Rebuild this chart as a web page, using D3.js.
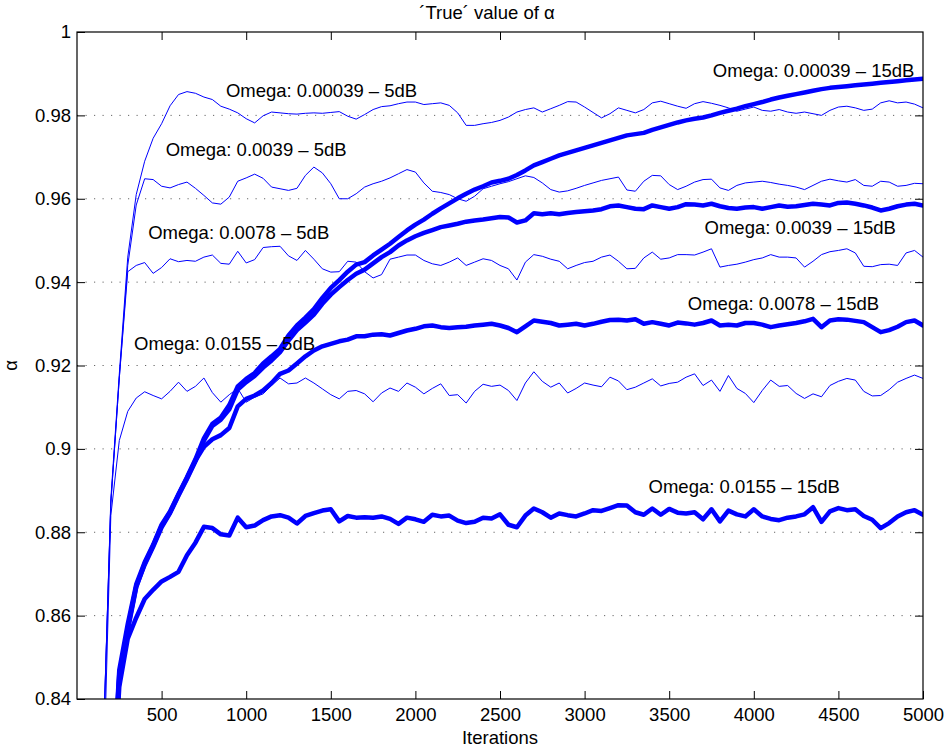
<!DOCTYPE html>
<html>
<head>
<meta charset="utf-8">
<script src="https://cdn.jsdelivr.net/npm/d3@7"></script>
<style>
  body { margin: 0; background: #fff; }
  svg text { font-family: "Liberation Sans", Arial, Helvetica, sans-serif; }
</style>
</head>
<body>
<div id="chart"></div>
<script>
// sampling of the iteration axis (every 50 iterations)
const iterations = d3.range(150, 5001, 50);

// 5dB runs (thin lines)
const omega00039_5dB = [
  0.822, 0.888, 0.918, 0.946, 0.961, 0.969, 0.9745, 0.978, 0.9823, 0.985,
  0.9857, 0.9853, 0.9844, 0.9838, 0.9822, 0.9815, 0.9806, 0.9792, 0.9782, 0.9799,
  0.9808, 0.9806, 0.9804, 0.9803, 0.9805, 0.9806, 0.9805, 0.9807, 0.9809, 0.9798,
  0.9791, 0.9802, 0.9814, 0.9821, 0.9823, 0.9828, 0.9832, 0.9832, 0.9826, 0.9828,
  0.983, 0.9824, 0.9806, 0.9776, 0.9776, 0.978, 0.9783, 0.9788, 0.9796, 0.9808,
  0.9814, 0.9818, 0.9808, 0.9816, 0.9824, 0.9833, 0.9832, 0.982, 0.9807, 0.9794,
  0.9804, 0.9818, 0.9812, 0.9806, 0.9814, 0.983, 0.9834, 0.9828, 0.9822, 0.9817,
  0.9828, 0.9833, 0.9829, 0.9824, 0.9818, 0.981, 0.9815, 0.982, 0.9812, 0.981,
  0.9814, 0.9808, 0.9805, 0.9808, 0.9804, 0.98, 0.9812, 0.982, 0.9822, 0.9818,
  0.9812, 0.9815, 0.983, 0.9835, 0.983, 0.9832, 0.9827, 0.9818
];
const omega0039_5dB = [
  0.822, 0.887, 0.917, 0.944, 0.9585, 0.9648, 0.9646, 0.963, 0.9626, 0.9634,
  0.964, 0.9625, 0.9608, 0.959, 0.9587, 0.9604, 0.9642, 0.965, 0.9659, 0.9649,
  0.9628, 0.9624, 0.962, 0.9625, 0.9656, 0.9676, 0.9662, 0.9636, 0.96, 0.96,
  0.9612, 0.9628, 0.9636, 0.9642, 0.965, 0.966, 0.967, 0.9664, 0.9638, 0.9618,
  0.9615, 0.961, 0.96, 0.9594, 0.9606, 0.9624, 0.963, 0.9636, 0.9641, 0.9648,
  0.9655, 0.9651, 0.9638, 0.9622, 0.9616, 0.9619, 0.9625, 0.9632, 0.9638, 0.9644,
  0.9648, 0.9652, 0.9621, 0.9618, 0.9642, 0.9656, 0.9655, 0.9634, 0.9622, 0.963,
  0.964, 0.9646, 0.9647, 0.9626, 0.962, 0.9632, 0.9638, 0.964, 0.9642, 0.9639,
  0.9635, 0.9632, 0.9628, 0.9622, 0.9632, 0.9642, 0.9647, 0.9643, 0.964, 0.9646,
  0.9632, 0.963, 0.9642, 0.964, 0.963, 0.9632, 0.9637, 0.9636
];
const omega0078_5dB = [
  0.822, 0.887, 0.917, 0.9425, 0.944, 0.9447, 0.9421, 0.9435, 0.9456, 0.9449,
  0.9452, 0.945, 0.946, 0.9465, 0.9445, 0.9443, 0.9474, 0.9446, 0.9454, 0.9483,
  0.9485, 0.9486, 0.9463, 0.9452, 0.9476, 0.9455, 0.9432, 0.9424, 0.9425, 0.945,
  0.9448, 0.9425, 0.941, 0.9418, 0.9455, 0.946, 0.9465, 0.9465, 0.9452, 0.9444,
  0.944, 0.9448, 0.9458, 0.944, 0.9448, 0.9456, 0.9452, 0.944, 0.9432, 0.9405,
  0.9448, 0.9466, 0.9462, 0.9455, 0.945, 0.9432, 0.944, 0.9447, 0.945, 0.946,
  0.9465, 0.945, 0.9432, 0.9433, 0.9458, 0.9472, 0.9455, 0.9458, 0.9466, 0.9466,
  0.9465, 0.9472, 0.948, 0.9436, 0.944, 0.9443, 0.9448, 0.9454, 0.9458, 0.9466,
  0.946, 0.946, 0.9458, 0.9436, 0.945, 0.9466, 0.9473, 0.9476, 0.948, 0.947,
  0.9438, 0.9437, 0.9442, 0.9443, 0.944, 0.947, 0.9476, 0.946
];
const omega0155_5dB = [
  0.81, 0.884, 0.902, 0.909, 0.9122, 0.9137, 0.9128, 0.912, 0.9138, 0.916,
  0.9138, 0.915, 0.917, 0.9135, 0.9112, 0.913, 0.9145, 0.9112, 0.9124, 0.9132,
  0.9152, 0.917, 0.9156, 0.9158, 0.917, 0.9158, 0.9144, 0.913, 0.912, 0.9138,
  0.914, 0.9132, 0.9113, 0.9134, 0.9146, 0.9138, 0.9158, 0.9148, 0.9132, 0.9145,
  0.9156, 0.9128, 0.913, 0.911, 0.9138, 0.9155, 0.915, 0.9153, 0.914, 0.9116,
  0.9158, 0.9185, 0.9162, 0.9148, 0.9158, 0.9134, 0.9145, 0.9158, 0.9153, 0.9149,
  0.9172, 0.9163, 0.9142, 0.9148, 0.9158, 0.9168, 0.9151, 0.9157, 0.916, 0.9172,
  0.918, 0.9152, 0.9165, 0.9138, 0.9176, 0.9145, 0.9133, 0.9111, 0.914, 0.9165,
  0.915, 0.9152, 0.9133, 0.9121, 0.9132, 0.9125, 0.9152, 0.9162, 0.9169, 0.9165,
  0.9138, 0.9127, 0.9128, 0.9142, 0.916, 0.9169, 0.9177, 0.9169
];

// 15dB runs (thick lines)
const omega00039_15dB = [
  0.79, 0.812, 0.847, 0.858, 0.8675, 0.8728, 0.877, 0.8818, 0.885, 0.8892,
  0.8932, 0.8975, 0.9025, 0.906, 0.9075, 0.9105, 0.915, 0.9168, 0.9182, 0.9205,
  0.9222, 0.924, 0.9272, 0.9296, 0.9315, 0.9335, 0.9362, 0.9386, 0.9405, 0.9425,
  0.9442, 0.9448, 0.9464, 0.9478, 0.9492, 0.9508, 0.9524, 0.9538, 0.955, 0.9564,
  0.9577, 0.9589, 0.9601, 0.9612, 0.9622, 0.963, 0.9639, 0.9643, 0.9648, 0.9657,
  0.9668, 0.968, 0.9688, 0.9696, 0.9704, 0.971, 0.9716, 0.9722, 0.9728, 0.9734,
  0.974, 0.9746, 0.9752, 0.9755, 0.9758, 0.9765, 0.9771, 0.9777, 0.9783, 0.9788,
  0.9792, 0.9795, 0.98, 0.9806, 0.9811, 0.9816, 0.9822, 0.9827, 0.9832, 0.9838,
  0.9843, 0.9847, 0.9851, 0.9855, 0.9859, 0.9863, 0.9866, 0.9868, 0.987, 0.9872,
  0.9874, 0.9876, 0.9878, 0.988, 0.9882, 0.9884, 0.9886, 0.9888
];
const omega0039_15dB = [
  0.79, 0.81, 0.845, 0.857, 0.867, 0.8722, 0.8765, 0.8812, 0.8846, 0.8888,
  0.8928, 0.897, 0.902, 0.9055, 0.907, 0.9095, 0.9142, 0.916, 0.9175, 0.9195,
  0.9212, 0.9232, 0.926, 0.9285, 0.9303, 0.9322, 0.9348, 0.937, 0.9388, 0.9405,
  0.942, 0.943, 0.9445, 0.946, 0.9472, 0.9488, 0.95, 0.951, 0.9518, 0.9525,
  0.9532, 0.9536, 0.954, 0.9545, 0.9548, 0.955, 0.9553, 0.9556, 0.9555, 0.9543,
  0.9548, 0.9565, 0.9563, 0.9565, 0.9563, 0.9566, 0.9568, 0.957, 0.9572, 0.9575,
  0.9582, 0.9584, 0.958, 0.9576, 0.9575, 0.9584, 0.958, 0.9576, 0.958, 0.9587,
  0.9586, 0.9584, 0.9588, 0.9582, 0.9578, 0.9576, 0.9579, 0.958, 0.9576, 0.958,
  0.9584, 0.9581, 0.9582, 0.9585, 0.9588, 0.9586, 0.9584, 0.959, 0.9591, 0.9588,
  0.9584, 0.9579, 0.9572, 0.9576, 0.9582, 0.9586, 0.9588, 0.9584
];
const omega0078_15dB = [
  0.788, 0.811, 0.846, 0.8565, 0.8668, 0.8725, 0.8768, 0.8815, 0.8848, 0.889,
  0.893, 0.8972, 0.9005, 0.9023, 0.9033, 0.905, 0.9102, 0.912, 0.9128, 0.914,
  0.9158, 0.918, 0.9188, 0.9205, 0.9222, 0.9236, 0.9246, 0.9252, 0.9258, 0.9262,
  0.927, 0.927, 0.9274, 0.9275, 0.9272, 0.9278, 0.9284, 0.9288, 0.9294, 0.9296,
  0.9292, 0.929, 0.9292, 0.9293, 0.9296, 0.9298, 0.93, 0.9296, 0.929, 0.928,
  0.9294, 0.9308, 0.9305, 0.9302, 0.9296, 0.9298, 0.93, 0.9296, 0.93, 0.9305,
  0.9309, 0.931, 0.9308, 0.9311, 0.93, 0.9304, 0.93, 0.9296, 0.9303, 0.9301,
  0.9298, 0.9302, 0.9308, 0.9296, 0.9298, 0.9296, 0.9302, 0.9302, 0.9298, 0.9292,
  0.9296, 0.9299, 0.9302, 0.9306, 0.9312, 0.9292, 0.9308, 0.9311, 0.931, 0.9307,
  0.9304, 0.9292, 0.928, 0.9285, 0.9293, 0.9304, 0.9308, 0.9296
];
const omega0155_15dB = [
  0.785, 0.808, 0.843, 0.8545, 0.8595, 0.864, 0.8662, 0.8682, 0.8693, 0.8705,
  0.8745, 0.8775, 0.8813, 0.881, 0.8795, 0.8792, 0.8835, 0.8812, 0.8816, 0.8829,
  0.8838, 0.8841, 0.8835, 0.8821, 0.8839, 0.8846, 0.8852, 0.8855, 0.8826, 0.8839,
  0.8835, 0.8836, 0.8835, 0.8838, 0.8832, 0.882, 0.8835, 0.8831, 0.8825, 0.8842,
  0.8838, 0.884, 0.8828, 0.8822, 0.8825, 0.8835, 0.8833, 0.8843, 0.8818, 0.8812,
  0.884, 0.8857, 0.8848, 0.8835, 0.8845, 0.8841, 0.8838, 0.8845, 0.8853, 0.8851,
  0.8858, 0.8865, 0.8864, 0.8848, 0.8842, 0.8857, 0.8842, 0.8856, 0.8847, 0.8845,
  0.8848, 0.8831, 0.8855, 0.8826, 0.8852, 0.8843, 0.8838, 0.8855, 0.8838, 0.8832,
  0.8829, 0.8835, 0.8838, 0.8843, 0.886, 0.8825, 0.885, 0.8858, 0.8853, 0.8855,
  0.8839, 0.883, 0.881, 0.8822, 0.8838, 0.8848, 0.8853, 0.8842
];

const xTicks = [500, 1000, 1500, 2000, 2500, 3000, 3500, 4000, 4500, 5000];
const yTicks = [0.84, 0.86, 0.88, 0.9, 0.92, 0.94, 0.96, 0.98, 1];

// text annotations: [label, iteration, alpha]
const labels = [
  ["Omega: 0.00039 \u2013 5dB", 880, 0.9844],
  ["Omega: 0.0039 \u2013 5dB", 524, 0.9703],
  ["Omega: 0.0078 \u2013 5dB", 421, 0.9503],
  ["Omega: 0.0155 \u2013 5dB", 337, 0.9237],
  ["Omega: 0.00039 \u2013 15dB", 3758, 0.9892],
  ["Omega: 0.0039 \u2013 15dB", 3709, 0.9515],
  ["Omega: 0.0078 \u2013 15dB", 3610, 0.9333],
  ["Omega: 0.0155 \u2013 15dB", 3378, 0.8894]
];

const series = [
  { values: omega00039_5dB, thick: false },
  { values: omega0039_5dB, thick: false },
  { values: omega0078_5dB, thick: false },
  { values: omega0155_5dB, thick: false },
  { values: omega00039_15dB, thick: true },
  { values: omega0039_15dB, thick: true },
  { values: omega0078_15dB, thick: true },
  { values: omega0155_15dB, thick: true }
];

const width = 949;
const height = 748;
const margin = { top: 32, right: 26, bottom: 49, left: 77 };
const fontSize = 18.5;

const svg = d3
  .select("#chart")
  .append("svg")
  .attr("width", width)
  .attr("height", height);

svg.append("rect").attr("width", width).attr("height", height).attr("fill", "#fff");

const x = d3
  .scaleLinear()
  .domain([0, 5000])
  .range([margin.left, width - margin.right]);
const y = d3
  .scaleLinear()
  .domain([0.84, 1])
  .range([height - margin.bottom, margin.top]);

svg
  .append("defs")
  .append("clipPath")
  .attr("id", "plot-clip")
  .append("rect")
  .attr("x", x(0))
  .attr("y", y(1))
  .attr("width", x(5000) - x(0))
  .attr("height", y(0.84) - y(1));

// dotted horizontal grid
svg
  .append("g")
  .selectAll("line")
  .data(yTicks.slice(1, -1))
  .join("line")
  .attr("x1", x(0))
  .attr("x2", x(5000))
  .attr("y1", (d) => y(d))
  .attr("y2", (d) => y(d))
  .attr("stroke", "#666")
  .attr("stroke-width", 1)
  .attr("stroke-dasharray", "1.2,7.3");

// curves
const line = d3
  .line()
  .x((d) => x(d[0]))
  .y((d) => y(d[1]));

svg
  .append("g")
  .attr("clip-path", "url(#plot-clip)")
  .selectAll("path")
  .data(series)
  .join("path")
  .attr("d", (s) => line(iterations.map((it, i) => [it, s.values[i]])))
  .attr("fill", "none")
  .attr("stroke", "#0000ff")
  .attr("stroke-width", (s) => (s.thick ? 4.5 : 1))
  .attr("stroke-linejoin", "round")
  .attr("stroke-linecap", "round");

// axes, matlab style ticks pointing inward
const fmt = (d) => String(+d.toFixed(2));
const axisStyle = (g) => {
  g.select(".domain").remove();
  g.selectAll(".tick line").attr("stroke", "#000");
  g.selectAll("text").attr("font-size", fontSize).attr("fill", "#000");
};

svg
  .append("g")
  .attr("transform", `translate(0,${y(0.84)})`)
  .call(d3.axisBottom(x).tickValues(xTicks).tickFormat(fmt).tickSizeInner(-8).tickSizeOuter(0).tickPadding(9))
  .call(axisStyle);
svg
  .append("g")
  .attr("transform", `translate(0,${y(1)})`)
  .call(d3.axisTop(x).tickValues(xTicks.slice(0, -1)).tickFormat("").tickSizeInner(-8).tickSizeOuter(0))
  .call(axisStyle);
svg
  .append("g")
  .attr("transform", `translate(${x(0)},0)`)
  .call(d3.axisLeft(y).tickValues(yTicks).tickFormat(fmt).tickSizeInner(-8).tickSizeOuter(0).tickPadding(6))
  .call(axisStyle);
svg
  .append("g")
  .attr("transform", `translate(${x(5000)},0)`)
  .call(d3.axisRight(y).tickValues(yTicks.slice(1, -1)).tickFormat("").tickSizeInner(-8).tickSizeOuter(0))
  .call(axisStyle);

// box
svg
  .append("rect")
  .attr("x", x(0))
  .attr("y", y(1))
  .attr("width", x(5000) - x(0))
  .attr("height", y(0.84) - y(1))
  .attr("fill", "none")
  .attr("stroke", "#000")
  .attr("stroke-width", 1.2);

// annotations
svg
  .append("g")
  .selectAll("text")
  .data(labels)
  .join("text")
  .attr("x", (d) => x(d[1]))
  .attr("y", (d) => y(d[2]))
  .attr("font-size", fontSize)
  .attr("fill", "#000")
  .text((d) => d[0]);

// title and axis labels
svg
  .append("text")
  .attr("x", 487)
  .attr("y", 19)
  .attr("text-anchor", "middle")
  .attr("font-size", fontSize)
  .text("\u00b4True\u00b4 value of \u03b1");

svg
  .append("text")
  .attr("x", (x(0) + x(5000)) / 2)
  .attr("y", 744)
  .attr("text-anchor", "middle")
  .attr("font-size", fontSize)
  .text("Iterations");

svg
  .append("text")
  .attr("transform", `translate(17,${(y(0.84) + y(1)) / 2}) rotate(-90)`)
  .attr("text-anchor", "middle")
  .attr("font-size", fontSize)
  .text("\u03b1");
</script>
</body>
</html>
